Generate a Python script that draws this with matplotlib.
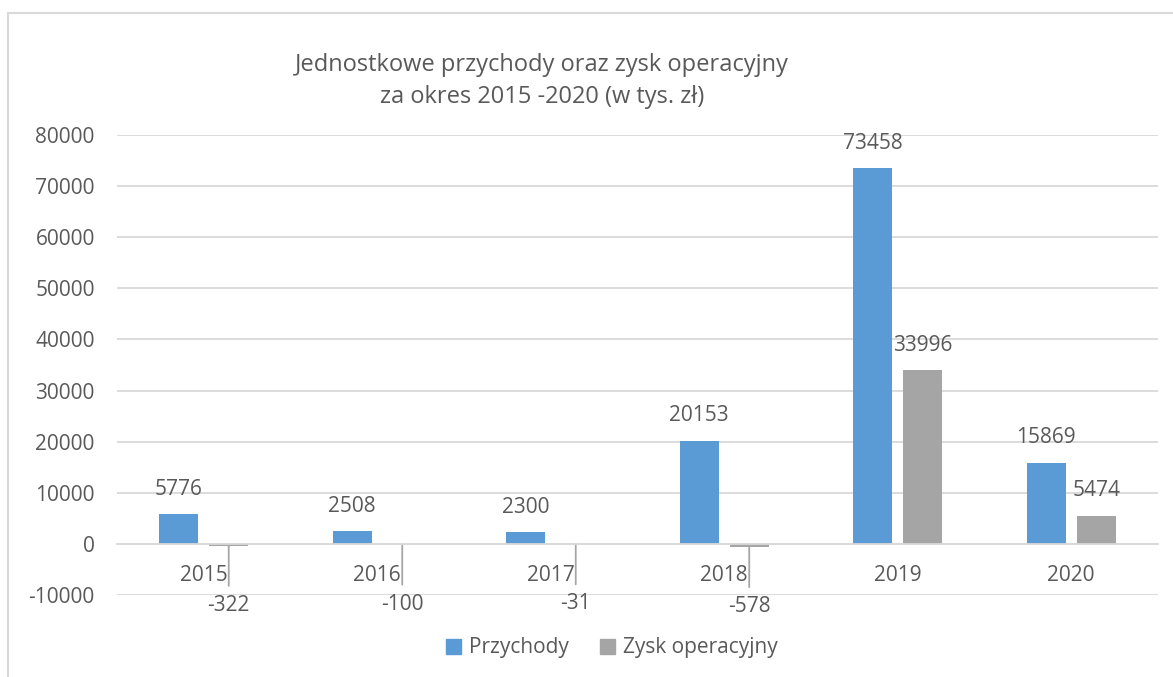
import matplotlib
matplotlib.use('Agg')
import matplotlib.pyplot as plt
from matplotlib.patches import Patch, Rectangle
import numpy as np

# data
years = ['2015', '2016', '2017', '2018', '2019', '2020']
przychody = [5776, 2508, 2300, 20153, 73458, 15869]
zysk = [-322, -100, -31, -578, 33996, 5474]
y_ticks = [-10000, 0, 10000, 20000, 30000, 40000, 50000, 60000, 70000, 80000]

title = 'Jednostkowe przychody oraz zysk operacyjny\nza okres 2015 -2020 (w tys. zł)'
series_names = ['Przychody', 'Zysk operacyjny']

blue = '#5B9BD5'
grey = '#A5A5A5'
text_col = '#595959'
grid_col = '#D9D9D9'

plt.rcParams['font.family'] = ['Open Sans', 'DejaVu Sans']

fig = plt.figure(figsize=(11.73, 6.77), dpi=100)
W, H = 1173, 677
ax = fig.add_axes([117 / W, (H - 595) / H, (1158 - 117) / W, (595 - 135) / H])

x = np.arange(len(years))
bw = 0.225
off = 0.144
ax.bar(x - off, przychody, bw, color=blue, zorder=3)
ax.bar(x + off, zysk, bw, color=grey, zorder=3)

ax.set_xlim(-0.5, len(years) - 0.5)
ax.set_ylim(y_ticks[0], y_ticks[-1])
ax.set_yticks(y_ticks)
ax.set_yticklabels([str(v) for v in y_ticks])
ax.yaxis.grid(True, color=grid_col, lw=1.3, zorder=0)
ax.set_axisbelow(True)

ax.set_xticks(x)
ax.set_xticklabels(years)
for s in ['top', 'right', 'left']:
    ax.spines[s].set_visible(False)
ax.spines['bottom'].set_position(('data', 0))
ax.spines['bottom'].set_color(grid_col)
ax.spines['bottom'].set_linewidth(1.3)
ax.spines['bottom'].set_zorder(4)
ax.tick_params(axis='both', length=0, labelsize=15, labelcolor=text_col)
ax.tick_params(axis='x', pad=15)
ax.tick_params(axis='y', pad=16)

# data labels
for xi, v in zip(x - off, przychody):
    ax.annotate(str(v), (xi, v), xytext=(0, 18), textcoords='offset points',
                ha='center', va='center', fontsize=15, color=text_col)
for xi, v in zip(x + off, zysk):
    if v >= 0:
        ax.annotate(str(v), (xi, v), xytext=(0, 18), textcoords='offset points',
                    ha='center', va='center', fontsize=15, color=text_col)
    else:
        # label pushed below the category names, with a leader line
        ax.annotate(str(v), (xi, v), xytext=(0, -43), textcoords='offset points',
                    ha='center', va='center', fontsize=15, color=text_col,
                    arrowprops=dict(arrowstyle='-', color='#A6A6A6', lw=1.3,
                                    patchA=None, shrinkA=14, shrinkB=0))

fig.text(542 / W, 1 - 81 / H, title, ha='center', va='center', fontsize=17,
         color=text_col, linespacing=1.45)

handles = [Patch(color=blue), Patch(color=grey)]
fig.legend(handles, series_names, loc='center', bbox_to_anchor=(612 / W, 1 - 648 / H),
           ncol=2, frameon=False, fontsize=15, labelcolor=text_col,
           handlelength=0.7, handleheight=0.7, handletextpad=0.4, columnspacing=1.5)

# chart border
fig.patches.append(Rectangle((8 / W, -0.1), 1.2, 1.1 - 13 / H, transform=fig.transFigure,
                             fill=False, edgecolor=grid_col, lw=1.5))

fig.savefig('out.png', dpi=100)
